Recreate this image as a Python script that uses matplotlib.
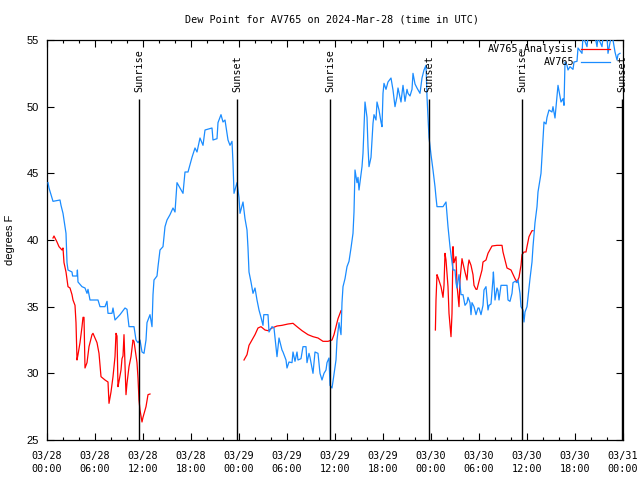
import matplotlib
matplotlib.use('Agg')
import matplotlib.pyplot as plt
from matplotlib.lines import Line2D
from matplotlib.ticker import FixedLocator, MultipleLocator
import numpy as np

# hours since 2024-03-28 00:00 UTC
blue_hours = [0.125, 0.25, 0.75, 1.625, 1.75, 2.0, 2.375, 2.5, 2.625, 3.125, 3.2, 3.75, 3.8, 3.875,
              4.375, 4.75, 5.0, 5.125, 5.375, 6.375, 6.625, 7.25, 7.5, 7.625, 8.125, 8.25, 8.5, 9.125,
              9.75, 10.0, 10.25, 10.875, 11.125, 11.375, 11.625, 11.875, 12.125, 12.375, 12.5, 12.875,
              13.125, 13.25, 13.375, 13.75, 13.875, 14.125, 14.5, 14.75, 15.0, 15.375, 15.75, 16.0,
              16.25, 16.625, 17.0, 17.25, 17.625, 18.125, 18.5, 18.75, 19.125, 19.5, 19.75, 20.625,
              20.75, 21.25, 21.375, 21.75, 22.0, 22.25, 22.625, 22.875, 23.125, 23.25, 23.375, 23.75,
              24.0, 24.125, 24.5, 24.75, 25.0, 25.125, 25.25, 25.5, 25.75, 26.0, 26.25, 26.5, 26.75,
              27.0, 27.1, 27.625, 27.75, 28.125, 28.375, 28.625, 28.75, 29.0, 29.375, 29.5, 29.875,
              30.0, 30.25, 30.625, 30.75, 31.0, 31.25, 31.375, 31.75, 32.0, 32.375, 32.5, 32.75,
              32.875, 33.25, 33.5, 33.875, 34.125, 34.375, 34.625, 34.875, 35.0, 35.25, 35.375,
              35.625, 35.75, 36.125, 36.25, 36.5, 36.75, 36.875, 37.0, 37.25, 37.5, 37.75, 38.0,
              38.25, 38.375, 38.5, 38.75, 38.875, 39.0, 39.375, 39.5, 39.75, 40.0, 40.125, 40.25,
              40.5, 40.75, 40.875, 41.125, 41.25, 41.5, 41.75, 41.875, 42.0, 42.125, 42.375, 42.625,
              43.0, 43.25, 43.5, 43.75, 43.875, 44.25, 44.5, 44.75, 45.0, 45.125, 45.375, 45.625,
              45.75, 46.0, 46.25, 46.625, 46.875, 47.125, 47.375, 47.5, 47.625, 47.75, 48.0, 48.25,
              48.5, 48.625, 48.75, 49.5, 49.875, 50.125, 50.375, 50.625, 50.75, 51.0, 51.125, 51.25,
              51.5, 51.75, 52.0, 52.25, 52.5, 52.625, 52.875, 53.0, 53.125, 53.375, 53.625, 53.875,
              54.0, 54.25, 54.5, 54.625, 54.875, 55.0, 55.125, 55.25, 55.5, 55.75, 55.8, 56.0,
              56.25, 56.375, 56.5, 56.75, 57.5, 57.625, 57.875, 58.125, 58.25, 58.5, 58.75, 58.875,
              59.125, 59.25, 59.5, 59.625, 59.75, 60.0, 60.375, 60.625, 60.75, 61.0, 61.25, 61.375,
              61.75, 62.0, 62.125, 62.375, 62.5, 62.75, 63.125, 63.25, 63.5, 63.75, 63.875, 64.25,
              64.5, 64.625, 64.75, 65.0, 65.125, 65.375, 65.75, 65.875, 66.25, 66.375, 66.875, 67.0,
              67.5, 67.625, 68.5, 68.75, 68.875, 69.375, 69.5, 70.0, 70.125, 70.5, 70.75, 71.0,
              71.25, 71.375, 71.625]
blue_dewpt = [44.3, 43.9, 42.9, 43.0, 42.6, 42.0, 40.5, 38.3, 37.75, 37.6, 37.3, 37.3, 37.75, 36.85,
              36.5, 36.4, 36.0, 36.3, 35.5, 35.5, 35.0, 35.0, 35.4, 34.5, 34.5, 34.9, 34.0, 34.4,
              34.9, 34.8, 33.5, 33.5, 32.5, 32.3, 32.5, 31.6, 31.5, 32.5, 33.8, 34.4,
              33.5, 35.9, 37.0, 37.3, 38.0, 39.25, 39.5, 41.0, 41.5, 41.9, 42.4, 42.1,
              44.3, 43.9, 43.5, 45.1, 45.1, 46.2, 46.9, 46.6, 47.65, 47.1, 48.25, 48.4,
              47.5, 47.6, 48.8, 49.4, 48.85, 49.0, 47.5, 47.1, 47.4, 45.8, 43.5, 44.3,
              43.2, 42.0, 42.85, 41.6, 40.75, 39.4, 37.6, 36.85, 36.0, 36.4, 35.5, 34.75, 34.2,
              33.6, 34.4, 34.4, 33.1, 33.5, 33.4, 32.0, 31.25, 32.65, 31.75, 31.6, 31.0,
              30.4, 30.85, 30.8, 31.6, 30.9, 31.6, 31.0, 31.1, 32.0, 32.0, 30.8, 31.5,
              31.2, 30.0, 31.6, 31.5, 30.0, 29.5, 30.0, 30.25, 30.8, 31.15, 29.1,
              28.9, 29.4, 31.0, 32.5, 33.8, 32.9, 35.3, 36.5, 37.1, 38.0, 38.4, 39.4,
              40.5, 42.1, 45.25, 44.3, 44.7, 43.75, 45.5, 46.5, 50.35, 49.2, 47.0, 45.5,
              46.2, 48.75, 49.4, 49.0, 50.35, 49.75, 48.85, 48.5, 51.0, 51.75, 51.3, 51.85,
              52.15, 51.25, 50.0, 50.75, 51.4, 50.35, 51.6, 50.4, 51.3, 51.0, 50.8, 51.3,
              52.5, 51.7, 51.4, 51.0, 52.15, 52.75, 53.1, 50.75, 49.2, 47.7, 46.4, 45.25,
              44.0, 43.2, 42.5, 42.5, 42.85, 41.0, 39.5, 38.35, 37.75, 37.75, 36.8, 36.4,
              37.4, 35.9, 35.9, 35.1, 35.3, 35.7, 35.3, 34.4, 35.3, 35.0, 34.4, 34.9,
              34.9, 34.4, 35.1, 36.25, 36.5, 35.6, 34.75, 35.1, 35.2, 37.1, 37.6, 35.5,
              36.4, 36.2, 35.5, 36.6, 36.6, 35.5, 35.4, 36.0, 36.8, 36.9, 36.8, 37.0,
              36.0, 35.0, 34.75, 33.85, 34.6, 35.0, 37.1, 38.35, 39.5, 41.3, 42.5, 43.6,
              45.0, 47.65, 48.85, 48.7, 49.2, 49.75, 49.6, 50.0, 49.15, 50.75, 51.6, 50.35,
              50.6, 50.1, 53.35, 53.1, 52.75, 53.0, 52.8, 53.35, 53.4, 54.4, 54.0, 55.3,
              54.5, 55.3, 55.3, 54.5, 55.2, 54.5, 55.2, 55.3, 54.0, 55.2, 55.0, 54.1,
              53.5, 53.9, 54.0]

red_hours = [0.75, 0.875, 1.25, 1.5, 1.875, 2.0, 2.125, 2.375, 2.625, 2.875, 3.125, 3.25, 3.5,
             3.625, 3.75, 3.875, 4.125, 4.375, 4.5, 4.625, 4.75, 5.0, 5.25, 5.625, 5.75, 6.25,
             6.5, 6.75, 7.25, 7.625, 7.75, 8.0, 8.25, 8.5, 8.625, 8.75, 8.875, 9.0, 9.25, 9.375,
             9.5, 9.625, 9.875, 10.0, 10.25, 10.5, 10.75, 10.875, 11.25, 11.375, 11.5, 11.625,
             11.875, 12.0, 12.375, 12.625, 12.875,
             np.nan,
             24.625, 25.0, 25.25, 25.625, 26.0, 26.375, 26.75, 27.25, 27.625, 28.125, 28.75,
             29.375, 30.125, 30.75, 31.25, 31.875, 32.625, 33.25, 33.875, 34.5, 35.125, 35.625,
             35.875, 36.125, 36.375, 36.75,
             np.nan,
             48.55, 48.625, 48.75, 48.875, 49.25, 49.5, 49.625, 49.75, 49.875, 50.125, 50.25,
             50.5, 50.625, 50.75, 50.875, 51.125, 51.25, 51.5, 51.625, 51.875, 52.0, 52.25, 52.5,
             52.625, 52.75, 53.0, 53.25, 53.375, 53.625, 53.75, 54.0, 54.375, 54.5, 54.875,
             55.125, 55.625, 56.25, 56.875, 57.0, 57.25, 57.5, 58.0, 58.5, 58.75, 59.0, 59.25,
             59.375, 59.625, 59.875, 60.0, 60.25, 60.625, 60.75]
red_dewpt = [40.15, 40.3, 39.85, 39.5, 39.25, 39.4, 38.3, 37.6, 36.5, 36.4, 35.9, 35.5, 35.1,
             33.8, 31.0, 31.4, 32.3, 33.5, 34.2, 34.2, 30.4, 30.8, 32.0, 32.9, 33.0, 32.3,
             31.5, 29.75, 29.5, 29.35, 27.75, 28.6, 29.75, 31.25, 33.0, 32.8, 29.0, 29.4, 30.25, 31.1,
             31.3, 32.9, 28.4, 29.25, 30.5, 31.25, 32.5, 32.4, 30.8, 29.65, 28.0, 27.25,
             26.35, 26.7, 27.5, 28.4, 28.45,
             np.nan,
             31.0, 31.4, 32.1, 32.5, 32.9, 33.4, 33.5, 33.25, 33.2, 33.4, 33.55,
             33.6, 33.7, 33.75, 33.5, 33.2, 32.9, 32.75, 32.65, 32.4, 32.4, 32.5,
             32.9, 33.5, 34.1, 34.7,
             np.nan,
             33.25, 35.5, 37.4, 37.2, 36.5, 35.7, 36.6, 39.0, 38.5, 36.5, 34.5,
             32.75, 34.5, 39.5, 38.3, 38.75, 36.6, 35.0, 37.0, 38.6, 38.25, 37.6, 37.0,
             38.0, 38.5, 38.1, 37.4, 36.6, 36.3, 36.3, 36.9, 37.75, 38.35, 38.5,
             39.0, 39.55, 39.6, 39.6, 39.1, 38.5, 37.9, 37.75, 37.1, 36.85, 37.2, 38.1,
             38.9, 39.1, 39.1, 39.5, 40.25, 40.7, 40.7]

sun_hours = [11.5, 23.75, 35.375, 47.75, 59.375, 71.875]
sun_labels = ['Sunrise', 'Sunset', 'Sunrise', 'Sunset', 'Sunrise', 'Sunset']

tick_hours = [0, 6, 12, 18, 24, 30, 36, 42, 48, 54, 60, 66, 72]
tick_labels = ['03/28\n00:00', '03/28\n06:00', '03/28\n12:00', '03/28\n18:00',
               '03/29\n00:00', '03/29\n06:00', '03/29\n12:00', '03/29\n18:00',
               '03/30\n00:00', '03/30\n06:00', '03/30\n12:00', '03/30\n18:00',
               '03/31\n00:00']
y_ticks = [25, 30, 35, 40, 45, 50, 55]

BLUE = '#1a8cff'
RED = '#ff0000'
MONO = 'DejaVu Sans Mono'
SANS = 'Liberation Sans'

fig = plt.figure(figsize=(6.4, 4.8), dpi=100)
ax = fig.add_axes([47/640, 40/480, 576/640, 400/480])

ax.plot(red_hours, red_dewpt, color=RED, lw=0.9, zorder=2)
ax.plot(blue_hours, blue_dewpt, color=BLUE, lw=0.9, zorder=3)
ax.vlines(sun_hours, 25, 50.6, color='black', lw=1.0, zorder=4)
for h, lab in zip(sun_hours, sun_labels):
    ax.text(h, 51.1, lab, rotation=90, ha='center', va='bottom',
            family=MONO, fontsize=7.3, zorder=5)

ax.set_xlim(0, 72)
ax.set_ylim(25, 55)
ax.xaxis.set_major_locator(FixedLocator(tick_hours))
ax.set_xticklabels(tick_labels, family=MONO, fontsize=7.3, linespacing=1.4)
ax.xaxis.set_minor_locator(MultipleLocator(2))
ax.set_yticks(y_ticks)
ax.set_yticklabels([str(v) for v in y_ticks], family=SANS, fontsize=8)
ax.tick_params(axis='both', which='major', direction='in', length=5, width=0.8,
               top=True, right=True, color='black')
ax.tick_params(axis='x', which='major', pad=8)
ax.tick_params(axis='y', which='major', pad=6)
ax.tick_params(axis='x', which='minor', direction='in', length=2.5, width=0.8, top=True)
for s in ax.spines.values():
    s.set_linewidth(0.9)

# legend (gnuplot style key)
ax.text(0.915, 0.9775, 'AV765\u2090Analysis', transform=ax.transAxes, ha='right', va='center',
        family=[MONO, 'DejaVu Sans'], fontsize=7.3, zorder=6)
ax.text(0.915, 0.945, 'AV765', transform=ax.transAxes, ha='right', va='center',
        family=MONO, fontsize=7.3, zorder=6)
ax.add_line(Line2D([0.927, 0.977], [0.9775, 0.9775], transform=ax.transAxes, color=RED,
                   lw=0.9, clip_on=False, zorder=6))
ax.add_line(Line2D([0.927, 0.977], [0.945, 0.945], transform=ax.transAxes, color=BLUE,
                   lw=0.9, clip_on=False, zorder=6))

fig.text(332/640, 1 - 19/480, 'Dew Point for AV765 on 2024-Mar-28 (time in UTC)',
         ha='center', va='center', family=MONO, fontsize=7.3)
fig.text(10/640, 0.5, 'degrees F', rotation=90, ha='center', va='center',
         family=SANS, fontsize=8)

fig.savefig('out.png', dpi=100)
